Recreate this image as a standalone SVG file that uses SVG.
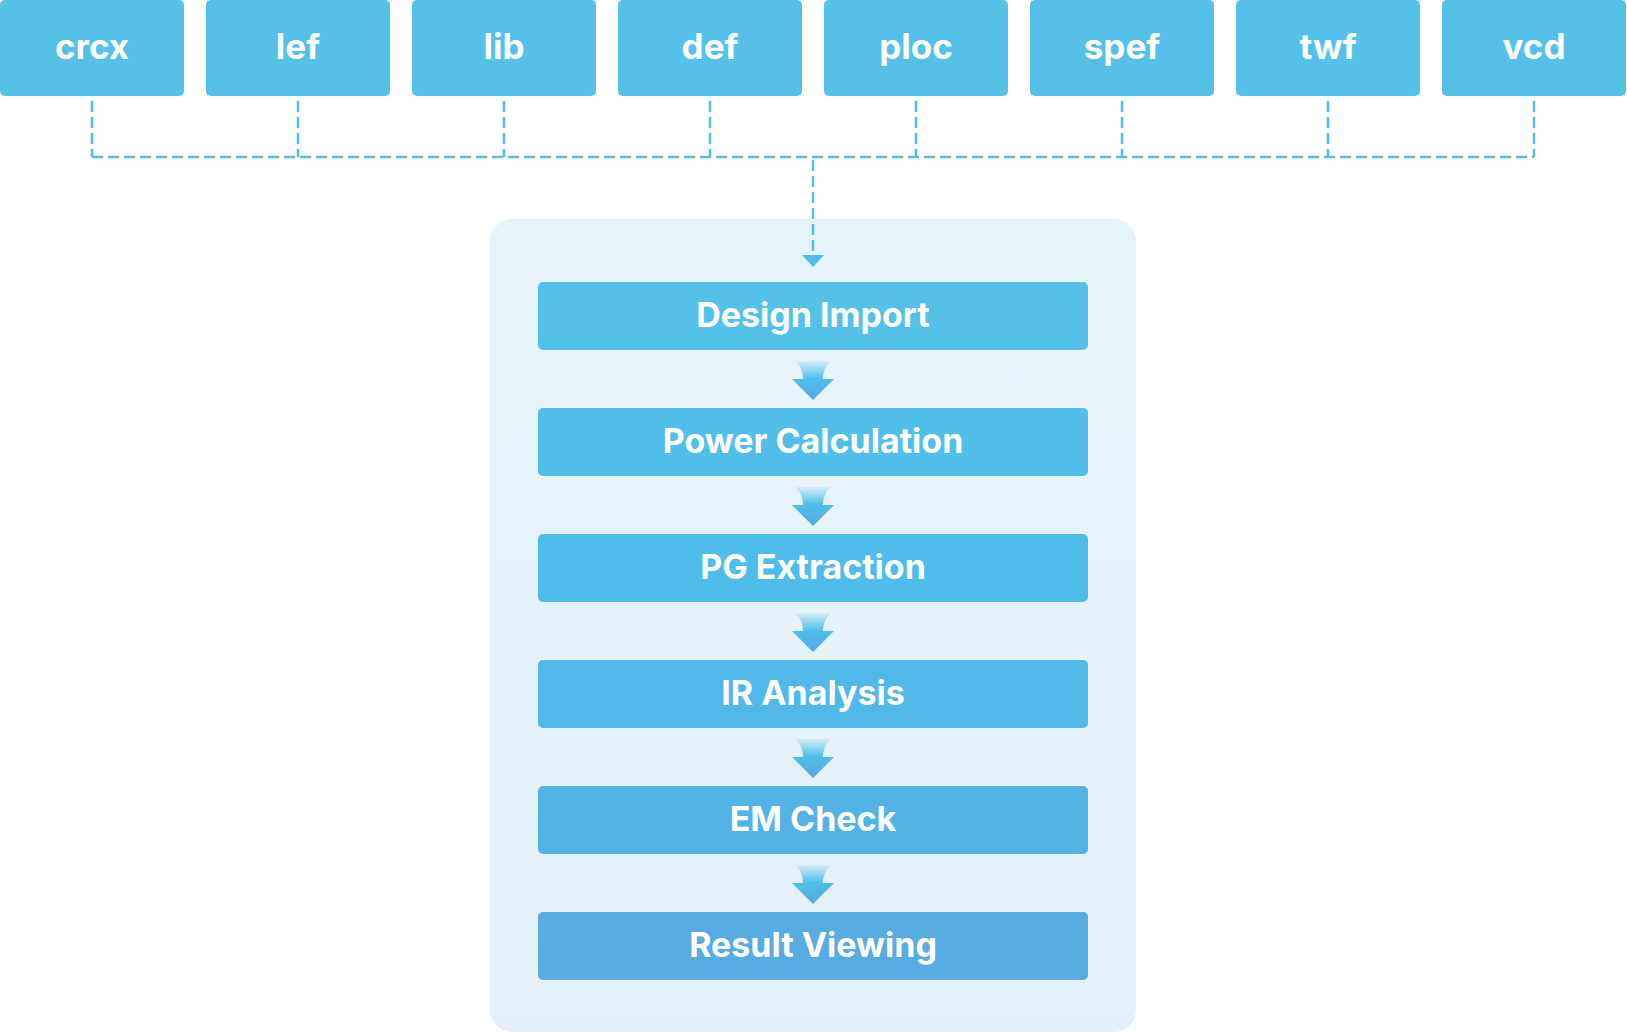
<svg xmlns="http://www.w3.org/2000/svg" width="1627" height="1033" viewBox="0 0 1627 1033">
<style>
.top{fill:#55C1E8}
.tt{font-family:Inter,"Noto Sans",sans-serif;font-weight:700;font-size:35px;fill:#fff;text-anchor:middle}
.mt{font-family:Inter,"Noto Sans",sans-serif;font-weight:700;font-size:34px;fill:#fff;text-anchor:middle}
.dash{stroke:#4FBFEA;stroke-width:2.5;stroke-dasharray:11 5;fill:none}
</style>
<defs>
<linearGradient id="cont" x1="0" y1="0" x2="0" y2="1">
<stop offset="0" stop-color="#E6F4FA"/><stop offset="1" stop-color="#E4F0F9"/>
</linearGradient>
<linearGradient id="arr" x1="0" y1="0" x2="0" y2="1">
<stop offset="0" stop-color="#4FBFEA" stop-opacity="0.1"/>
<stop offset="0.45" stop-color="#4FBFEA"/>
<stop offset="1" stop-color="#57A8DF"/>
</linearGradient>
<path id="bigarrow" d="M-18,0 L18,0 Q10,7 10,18 L21,18 L0,39 L-21,18 L-10,18 Q-10,7 -18,0 Z" fill="url(#arr)"/>
</defs>
<rect x="490" y="219" width="646" height="813" rx="22" fill="url(#cont)"/>
<g id="connectors">
<path class="dash" d="M92,101 V157 M298,101 V157 M504,101 V157 M710,101 V157 M916,101 V157 M1122,101 V157 M1328,101 V157 M1534,101 V157 M92,157 H1534"/>
<path class="dash" d="M813,160 V256"/>
<path d="M802,255 L824,255 L813,267 Z" fill="#4FBFEA"/>
<use href="#bigarrow" x="813" y="361"/>
<use href="#bigarrow" x="813" y="487"/>
<use href="#bigarrow" x="813" y="613"/>
<use href="#bigarrow" x="813" y="739"/>
<use href="#bigarrow" x="813" y="865"/>
</g>
<g id="crcx"><rect class="top" x="0" y="0" width="184" height="96" rx="5"/><text class="tt" x="92" y="59">crcx</text></g>
<g id="lef"><rect class="top" x="206" y="0" width="184" height="96" rx="5"/><text class="tt" x="298" y="59">lef</text></g>
<g id="lib"><rect class="top" x="412" y="0" width="184" height="96" rx="5"/><text class="tt" x="504" y="59">lib</text></g>
<g id="def"><rect class="top" x="618" y="0" width="184" height="96" rx="5"/><text class="tt" x="710" y="59">def</text></g>
<g id="ploc"><rect class="top" x="824" y="0" width="184" height="96" rx="5"/><text class="tt" x="916" y="59">ploc</text></g>
<g id="spef"><rect class="top" x="1030" y="0" width="184" height="96" rx="5"/><text class="tt" x="1122" y="59">spef</text></g>
<g id="twf"><rect class="top" x="1236" y="0" width="184" height="96" rx="5"/><text class="tt" x="1328" y="59">twf</text></g>
<g id="vcd"><rect class="top" x="1442" y="0" width="184" height="96" rx="5"/><text class="tt" x="1534" y="59">vcd</text></g>
<g id="design-import"><rect x="538" y="282" width="550" height="68" rx="5" fill="#55C1E8"/><text class="mt" x="813" y="327">Design Import</text></g>
<g id="power-calculation"><rect x="538" y="408" width="550" height="68" rx="5" fill="#51BFEA"/><text class="mt" x="813" y="453">Power Calculation</text></g>
<g id="pg-extraction"><rect x="538" y="534" width="550" height="68" rx="5" fill="#4EBDEB"/><text class="mt" x="813" y="579">PG Extraction</text></g>
<g id="ir-analysis"><rect x="538" y="660" width="550" height="68" rx="5" fill="#50B9EA"/><text class="mt" x="813" y="705">IR Analysis</text></g>
<g id="em-check"><rect x="538" y="786" width="550" height="68" rx="5" fill="#54B3E5"/><text class="mt" x="813" y="831">EM Check</text></g>
<g id="result-viewing"><rect x="538" y="912" width="550" height="68" rx="5" fill="#57ADE1"/><text class="mt" x="813" y="957">Result Viewing</text></g>
</svg>
